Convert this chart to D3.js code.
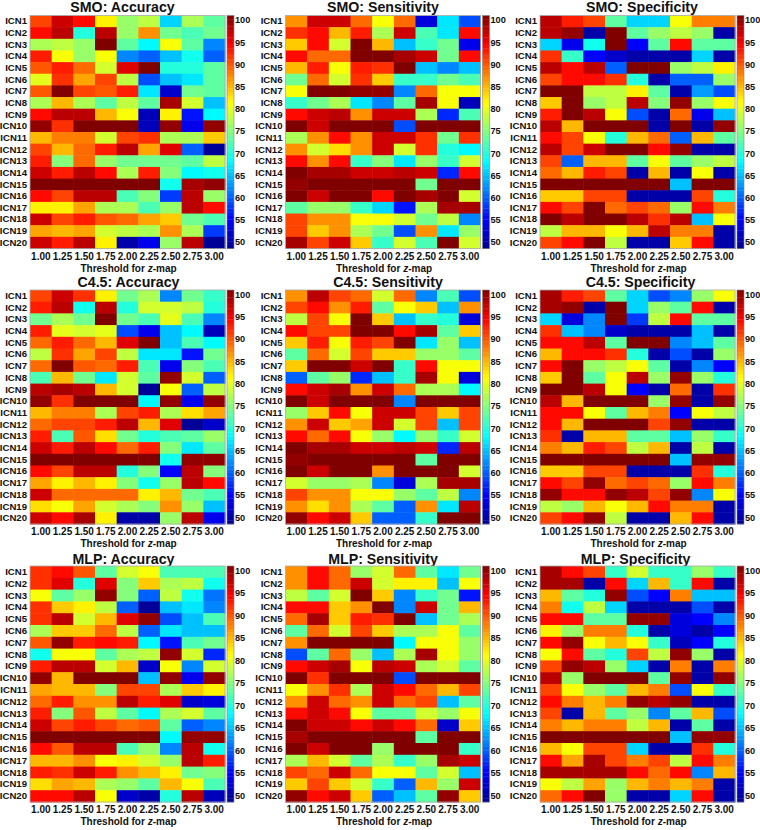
<!DOCTYPE html>
<html>
<head>
<meta charset="utf-8">
<script src="https://cdn.jsdelivr.net/npm/d3@7"></script>
<style>
  body { margin: 0; background: #fff; }
  text { font-family: "Liberation Sans", Arial, sans-serif; font-weight: bold; fill: #111; }
</style>
</head>
<body>
<script>
const thresholds = ["1.00", "1.25", "1.50", "1.75", "2.00", "2.25", "2.50", "2.75", "3.00"]
const networks = d3.range(1, 21).map((i) => "ICN" + i)
const colorTicks = [50, 55, 60, 65, 70, 75, 80, 85, 90, 95, 100]

const smoAccuracy = [
  [91,97,94,82,76,78,66,77,73],[94,98,70,98,76,87,74,72,74],[77,78,76,101,73,68,81,73,62],[93,81,76,81,62,60,65,69,60],
  [90,93,89,79,96,101,70,70,73],[80,92,86,91,78,59,65,67,73],[90,101,91,90,93,67,52,74,73],[77,85,77,73,78,73,99,79,65],
  [94,98,98,85,81,51,82,56,68],[100,92,101,101,101,51,100,54,100],[85,88,88,79,91,92,77,77,84],[91,85,89,93,98,86,96,60,49],
  [93,75,89,76,74,74,74,73,78],[97,93,98,94,77,93,75,68,69],[101,101,101,101,101,101,69,99,100],[94,91,98,98,72,75,58,98,76],
  [82,82,86,77,77,72,76,98,94],[97,91,93,90,89,86,84,74,72],[86,85,86,79,78,77,87,77,58],[97,93,98,82,50,54,76,98,49]
]
const smoSensitivity = [
  [87,97,97,89,81,89,53,67,59],[92,94,85,93,77,97,72,67,94],[84,94,79,101,85,65,71,74,54],[94,89,89,101,101,99,97,74,94],
  [85,93,81,93,92,101,65,62,65],[74,89,79,92,84,71,71,74,72],[81,101,101,100,100,62,89,81,81],[71,74,77,67,62,73,99,81,51],
  [94,97,98,87,97,97,77,57,72],[101,97,101,101,101,59,101,101,101],[77,87,94,87,97,97,92,74,92],[87,79,83,87,97,79,92,70,68],
  [94,87,94,71,75,67,76,71,79],[101,99,99,97,97,98,97,57,94],[100,101,101,101,101,101,74,101,101],[101,97,101,101,94,101,99,101,79],
  [73,76,76,71,66,56,77,99,99],[91,87,87,81,81,79,74,78,62],[91,84,87,77,74,59,87,67,76],[99,91,97,84,71,79,72,101,79]
]
const smoSpecificity = [
  [98,93,91,73,66,66,81,88,88],[98,100,50,101,73,76,78,76,50],[66,54,69,101,55,73,94,73,73],[92,71,55,52,50,50,50,66,50],
  [98,94,98,60,101,101,76,78,82],[91,94,94,92,70,50,60,60,76],[101,101,78,78,82,73,50,63,59],[84,101,76,78,98,75,100,76,81],
  [93,101,98,81,59,50,89,54,65],[98,85,101,101,101,50,101,50,100],[94,91,81,70,85,89,60,85,73],[98,91,97,101,101,94,100,50,50],
  [91,60,85,85,73,81,73,76,78],[89,85,93,91,50,85,50,81,50],[101,101,101,101,101,101,65,101,101],[84,84,91,91,50,50,50,91,70],
  [94,91,101,89,91,89,76,94,88],[101,98,101,101,98,92,98,65,81],[78,85,85,81,85,98,88,88,50],[91,94,101,78,50,50,84,94,50]
]
const c45Accuracy = [
  [91,97,92,82,74,77,62,74,71],[93,98,69,98,70,79,79,78,70],[74,77,74,101,74,72,80,72,62],[93,80,79,80,59,54,65,68,51],
  [89,93,89,85,96,101,65,72,68],[78,92,86,91,78,67,67,56,74],[89,101,90,89,93,72,54,75,72],[72,85,74,67,79,73,100,79,60],
  [98,99,98,85,79,49,81,60,78],[100,92,101,101,101,68,100,54,100],[85,88,88,77,91,93,77,83,86],[89,91,91,93,98,85,96,49,52],
  [93,72,90,83,74,70,72,73,76],[97,93,98,94,89,93,75,67,73],[101,101,101,101,101,101,69,100,100],[94,91,98,98,70,75,55,98,75],
  [86,82,85,82,75,69,76,98,94],[97,89,89,89,89,82,85,74,72],[83,81,86,79,77,75,87,76,65],[97,94,99,82,50,50,76,98,54]
]
const c45Sensitivity = [
  [87,98,91,89,79,89,62,72,59],[91,94,87,93,73,81,84,65,87],[78,91,81,101,84,65,71,70,53],[94,91,91,101,101,94,99,73,84],
  [84,93,81,93,91,101,67,76,65],[73,89,79,91,84,84,76,76,73],[84,101,101,97,101,71,94,81,81],[60,73,76,57,65,71,99,81,53],
  [94,97,99,87,97,89,77,77,68],[101,97,101,101,101,62,101,101,101],[76,84,94,81,97,97,91,84,91],[87,97,84,86,97,79,91,65,91],
  [94,89,94,81,76,68,76,71,79],[101,99,99,97,97,98,97,57,98],[100,101,101,101,101,101,73,101,101],[101,97,101,101,87,101,101,101,79],
  [79,76,76,77,62,53,77,99,99],[91,87,87,81,81,76,73,78,62],[87,83,87,77,73,60,87,67,98],[100,94,97,84,60,60,71,101,101]
]
const c45Specificity = [
  [99,93,91,73,66,59,62,76,81],[99,100,50,101,66,76,73,94,50],[66,53,62,101,58,78,94,73,73],[92,65,62,52,50,50,50,65,50],
  [94,94,98,73,101,101,62,65,73],[85,94,94,92,70,50,59,50,76],[94,101,76,78,81,73,50,62,55],[84,101,73,81,98,76,100,76,70],
  [101,101,98,81,55,50,89,50,92],[98,85,101,101,101,76,100,50,100],[94,94,81,73,85,88,55,81,78],[94,85,101,101,101,91,100,50,50],
  [92,50,85,85,73,73,65,76,71],[88,85,93,91,78,85,50,78,50],[101,101,101,101,101,101,65,100,100],[84,84,91,91,50,50,50,92,70],
  [94,91,100,89,91,89,76,94,88],[100,94,94,100,98,91,100,62,81],[78,76,85,81,85,94,88,88,50],[91,94,100,78,50,50,85,94,50]
]
const mlpAccuracy = [
  [92,94,90,73,79,81,72,72,72],[92,96,70,96,75,84,77,78,69],[81,73,76,100,75,60,78,69,61],[92,84,82,78,60,49,65,67,62],
  [92,98,79,85,96,100,59,65,72],[77,84,84,89,78,60,67,65,65],[90,100,93,94,93,68,56,72,74],[69,81,81,73,77,78,100,79,57],
  [93,98,98,79,85,52,81,62,79],[100,85,101,101,101,65,100,54,100],[86,85,85,75,91,91,77,84,82],[89,93,87,87,98,93,96,52,53],
  [93,75,90,78,73,68,77,79,73],[97,91,93,91,89,90,73,60,62],[101,101,101,101,101,101,68,100,100],[94,90,98,98,72,76,62,98,69],
  [85,85,87,81,82,79,76,98,93],[93,92,97,93,87,85,82,74,75],[83,86,85,77,76,73,85,81,72],[94,94,98,81,52,50,70,98,51]
]
const mlpSensitivity = [
  [87,94,89,76,79,89,73,67,74],[87,94,89,97,79,82,82,65,81],[78,73,79,101,84,62,71,74,56],[94,94,84,87,101,62,97,74,85],
  [89,99,84,93,92,101,65,74,77],[73,89,79,91,84,77,77,81,73],[87,101,101,101,101,68,81,81,76],[59,73,89,76,65,77,99,81,76],
  [94,97,99,81,98,97,77,79,73],[101,92,101,101,101,59,101,101,101],[81,87,92,77,97,94,89,85,91],[87,97,89,87,97,89,91,65,73],
  [94,97,94,81,73,73,79,76,81],[101,97,97,94,97,94,89,52,84],[99,101,101,101,101,101,73,101,101],[101,97,101,101,76,101,101,101,71],
  [77,85,79,73,77,71,76,99,97],[91,89,97,89,81,81,73,79,65],[84,91,84,79,71,60,85,76,97],[100,94,97,84,60,65,73,100,84]
]
const mlpSpecificity = [
  [99,94,91,71,79,71,71,76,71],[99,99,50,94,66,85,71,94,50],[85,73,70,100,59,55,88,65,65],[88,69,78,66,50,50,50,59,50],
  [94,94,73,73,100,100,53,55,62],[82,76,88,88,70,50,53,50,55],[94,100,81,85,81,71,51,55,70],[81,94,73,70,91,78,100,76,50],
  [91,100,98,76,66,50,88,50,88],[98,76,101,101,101,73,100,50,100],[91,81,76,73,85,88,59,81,71],[94,88,85,88,100,98,100,50,50],
  [91,50,85,73,76,62,73,85,59],[88,85,88,88,78,85,50,73,50],[101,101,101,101,101,101,65,100,100],[85,81,91,91,66,50,50,92,70],
  [94,86,99,91,88,91,78,94,88],[99,99,99,99,94,89,94,62,85],[81,78,86,76,85,88,85,88,50],[89,94,101,76,50,50,66,94,50]
]

const panels = [
  { title: "SMO: Accuracy", values: smoAccuracy }, { title: "SMO: Sensitivity", values: smoSensitivity }, { title: "SMO: Specificity", values: smoSpecificity },
  { title: "C4.5: Accuracy", values: c45Accuracy }, { title: "C4.5: Sensitivity", values: c45Sensitivity }, { title: "C4.5: Specificity", values: c45Specificity },
  { title: "MLP: Accuracy", values: mlpAccuracy }, { title: "MLP: Sensitivity", values: mlpSensitivity }, { title: "MLP: Specificity", values: mlpSpecificity }
]

const columnLeft = [30, 285.5, 540]
const rowTop = [15.5, 290, 566]
const rowHeight = [233, 234, 236]
const titleRise = [4, 3.5, 2]
// titles are not quite centred over their panels in the original
const titleShift = [-5, 0, 4.5, 1, 5, 3, -4, 0, -2]
const plotWidth = 195
const barWidth = 7
const domainMin = 48.5
const domainMax = 101

// matlab jet
const jetStops = ["#00008f", "#0000ff", "#0080ff", "#00ffff", "#80ff80", "#ffff00", "#ff8000", "#ff0000", "#800000"]
const color = d3.scaleLinear()
  .domain(d3.range(jetStops.length).map((i) => domainMin + (domainMax - domainMin) * i / (jetStops.length - 1)))
  .range(jetStops)
  .clamp(true)

const svg = d3.select("body")
  .append("svg")
    .attr("width", 760)
    .attr("height", 830)

panels.forEach((panel, i) => {
  const rowIndex = Math.floor(i / 3)
  const left = columnLeft[i % 3]
  const top = rowTop[rowIndex]
  const height = rowHeight[rowIndex]

  const x = d3.scaleBand().domain(thresholds).range([0, plotWidth])
  const y = d3.scaleBand().domain(networks).range([0, height])

  const g = svg.append("g").attr("transform", `translate(${left},${top})`)

  g.append("text")
    .attr("x", plotWidth / 2 + titleShift[i])
    .attr("y", -titleRise[rowIndex])
    .attr("text-anchor", "middle")
    .attr("font-size", 14.2)
    .text(panel.title)

  panel.values.forEach((row, r) => {
    g.selectAll("rect.r" + r)
      .data(row)
      .enter()
        .append("rect")
        .attr("class", "r" + r)
        .attr("x", (d, c) => x(thresholds[c]))
        .attr("y", y(networks[r]))
        .attr("width", x.bandwidth() + 0.5)
        .attr("height", y.bandwidth() + 0.5)
        .attr("fill", (d) => color(d))
  })

  g.append("rect")
    .attr("width", plotWidth)
    .attr("height", height)
    .attr("fill", "none")
    .attr("stroke", "#aaa")
    .attr("stroke-width", 0.8)

  const xAxis = g.append("g")
    .attr("transform", `translate(0,${height})`)
    .call(d3.axisBottom(x).tickSize(0).tickPadding(4))
  xAxis.select(".domain").remove()
  xAxis.selectAll("text").attr("font-size", 10)

  const yAxis = g.append("g").call(d3.axisLeft(y).tickSize(0).tickPadding(3))
  yAxis.select(".domain").remove()
  yAxis.selectAll("text").attr("font-size", 9.6)

  const label = g.append("text")
    .attr("x", plotWidth / 2 + 1)
    .attr("y", height + 23)
    .attr("text-anchor", "middle")
    .attr("font-size", 10)
  label.append("tspan").text("Threshold for ")
  label.append("tspan").attr("font-style", "italic").text("z")
  label.append("tspan").text("-map")

  // colorbar
  const barScale = d3.scaleLinear().domain([domainMin, domainMax]).range([height, 0])
  const bar = g.append("g").attr("transform", `translate(${plotWidth + 2},0)`)
  const levels = d3.range(0, 64).map((k) => domainMin + (domainMax - domainMin) * k / 64)
  const step = (domainMax - domainMin) / 64

  bar.selectAll("rect.level")
    .data(levels)
    .enter()
      .append("rect")
      .attr("class", "level")
      .attr("width", barWidth)
      .attr("y", (d) => barScale(d + step))
      .attr("height", (d) => barScale(d) - barScale(d + step) + 0.3)
      .attr("fill", (d) => color(d + step / 2))

  bar.append("rect")
    .attr("width", barWidth)
    .attr("height", height)
    .attr("fill", "none")
    .attr("stroke", "#888")
    .attr("stroke-width", 0.6)

  const barAxis = bar.append("g")
    .attr("transform", `translate(${barWidth},0)`)
    .call(d3.axisRight(barScale).tickValues(colorTicks).tickSize(0).tickPadding(1))
  barAxis.select(".domain").remove()
  barAxis.selectAll("text").attr("font-size", 9.2)
})
</script>
</body>
</html>
